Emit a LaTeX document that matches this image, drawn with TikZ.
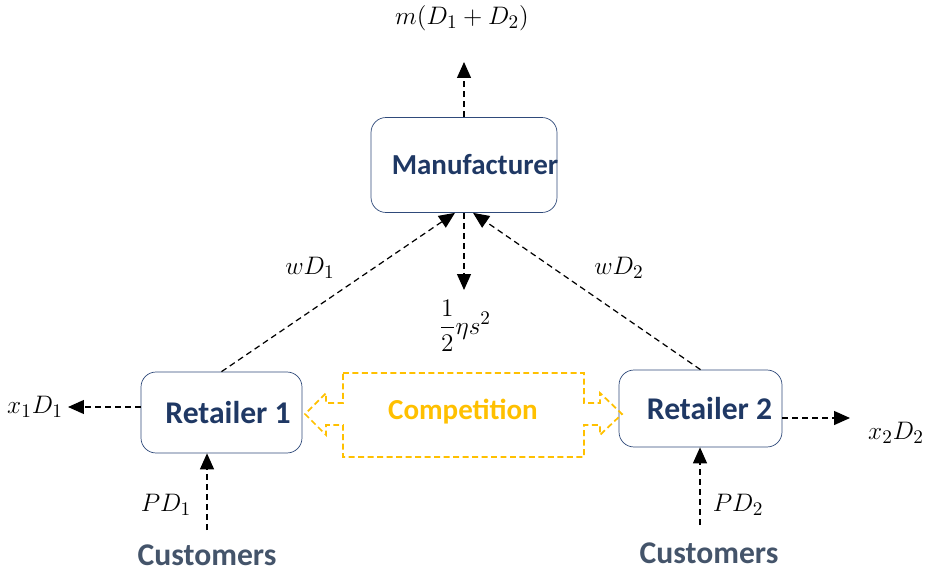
\documentclass[tikz,border=0pt]{standalone}
\usepackage{amsmath}
\usepackage{fontspec}
\setmainfont{Carlito}
\usetikzlibrary{arrows.meta}
\definecolor{boxblue}{HTML}{2F4A7A}
\definecolor{txtblue}{HTML}{1F3864}
\definecolor{custgray}{HTML}{44546A}
\definecolor{compyellow}{HTML}{FFC000}

\begin{document}
\begin{tikzpicture}[x=0.02cm, y=-0.02cm,
  party/.style={draw=boxblue, rounded corners=0.3cm, font=\bfseries\fontsize{18}{20}\selectfont, text=txtblue},
  flow/.style={line width=0.7pt, dash pattern=on 3.4pt off 2.3pt, -{Triangle[length=3.2mm,width=2.8mm]}},
  lbl/.style={font=\fontsize{15}{17}\selectfont},
  cust/.style={font=\bfseries\fontsize{18}{20}\selectfont, text=custgray}]
\useasboundingbox (0,0) rectangle (925,577);

% boxes
\node[party, minimum width=3.72cm, minimum height=1.9cm] (man) at (464,165) {\makebox[0pt]{\hspace*{0.44cm}\fontsize{16.5}{19}\selectfont Manufacturer}};
\node[party, minimum width=3.22cm, minimum height=1.62cm] (ret1) at (221.5,412.5) {\makebox[0pt]{\hspace*{0.26cm}Retailer 1}};
\node[party, minimum width=3.26cm, minimum height=1.54cm] (ret2) at (700.5,408.5) {\makebox[0pt]{\hspace*{0.36cm}Retailer 2}};

% competition
\node[font=\bfseries\fontsize{16.5}{19}\selectfont, text=compyellow] (comp) at (463,412) {Competition};
\draw[compyellow, line width=1pt, dash pattern=on 3.4pt off 2pt] (343,373) -- (584,373) -- (584,403) -- (600,403) -- (600,393)
  -- (622,414) -- (600,435) -- (600,425) -- (584,425) -- (584,457) -- (343,457) -- (343,425)
  -- (326,425) -- (326,435) -- (305,414) -- (326,393) -- (326,403) -- (343,403) -- cycle;

% labels
\node[lbl] (mtot) at (462,18) {$m(D_1+D_2)$};
\node[lbl] (wd1) at (310,268) {$wD_1$};
\node[lbl] (wd2) at (619,268) {$wD_2$};
\node[lbl] (cost) at (465,326) {$\dfrac{1}{2}\eta s^2$};
\node[lbl] (xd1) at (35,407) {$x_1D_1$};
\node[lbl] (xd2) at (896,433) {$x_2D_2$};
\node[lbl] (pd1) at (166,505) {$PD_1$};
\node[lbl] (pd2) at (738,505) {$PD_2$};
\node[cust] (cust1) at (207,555) {Customers};
\node[cust] (cust2) at (709,553) {Customers};

% flows
\coordinate (mtop) at (464,62);
\coordinate (mdown) at (464,290);
\coordinate (xl) at (68,407);
\coordinate (xr) at (850,418);
\coordinate (c1) at (207,530);
\coordinate (c2) at (700,525);
\draw[flow] (man.north) -- (mtop);
\draw[flow] (man.south) -- (mdown);
\draw[flow] (ret1.north) -- ([xshift=-0.18cm]man.south);
\draw[flow] (ret2.north) -- ([xshift=0.18cm]man.south);
\draw[flow] (ret1.west |- xl) -- (xl);
\draw[flow] (ret2.east |- xr) -- (xr);
\draw[flow] (c1) -- (c1 |- ret1.south);
\draw[flow] (c2) -- (c2 |- ret2.south);
\end{tikzpicture}
\end{document}
